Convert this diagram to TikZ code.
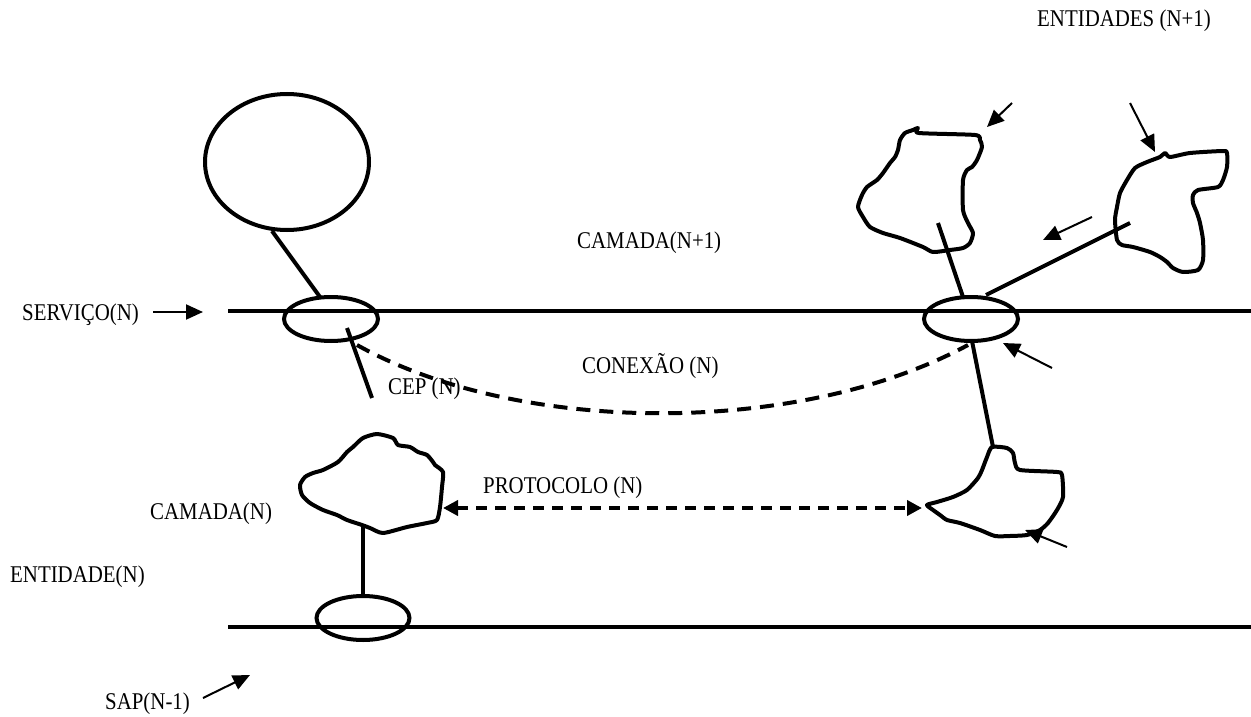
\documentclass[tikz,border=0pt]{standalone}
\usepackage{fontspec}
\setmainfont{Liberation Serif}[FakeStretch=0.87]
\usetikzlibrary{shapes.geometric,arrows.meta}
\tikzset{
  thickline/.style={line width=4pt, line cap=butt},
  blob/.style={line width=4pt, line join=round},
  ell/.style={draw, ellipse, line width=4pt, inner sep=0pt},
  ptr/.style={line width=2pt, -{Triangle[length=17pt,width=15pt]}},
  dashline/.style={line width=4pt, dash pattern=on 14pt off 9pt},
  lbl/.style={font=\fontsize{24}{28}\selectfont, inner sep=0pt, anchor=west}
}
\begin{document}
\begin{tikzpicture}[x=1pt,y=-1pt]
\useasboundingbox (0,0) rectangle (1251,717);
% horizontal lines
\coordinate (h1a) at (228,311); \coordinate (h1b) at (1251,311);
\coordinate (h2a) at (228,627); \coordinate (h2b) at (1251,627);
\draw[thickline] (h1a) -- (h1b);
\draw[thickline] (h2a) -- (h2b);
% ellipses
\node[ell, minimum width=164pt, minimum height=136pt] (big) at (287,162) {};
\node[ell, minimum width=94pt, minimum height=44pt] (eL) at (331,319) {};
\node[ell, minimum width=94pt, minimum height=44pt] (eR) at (971,319) {};
\node[ell, minimum width=93pt, minimum height=44pt] (eB) at (363,618) {};
% blobs
\draw[blob] plot[smooth cycle, tension=0.4] coordinates {(919,133) (975,135) (980,140) (982,147) (977,160) (972,167) (967,170) (963,180) (963,210) (968,223) (973,233) (970,243) (963,248) (950,250) (933,252) (923,247) (900,238) (883,233) (870,227) (863,217) (858,207) (862,195) (867,187) (877,180) (883,173) (890,163) (895,157) (898,150) (900,140) (905,133) (913,130) (918,128)};
\draw[blob] plot[smooth cycle, tension=0.4] coordinates {(1165,153) (1170,157) (1190,153) (1223,151) (1227,153) (1227,167) (1223,180) (1218,187) (1198,190) (1193,195) (1193,203) (1197,213) (1200,223) (1203,240) (1203,260) (1198,270) (1183,272) (1173,268) (1167,262) (1160,257) (1150,252) (1133,247) (1122,245) (1117,240) (1115,220) (1117,207) (1120,193) (1127,180) (1135,168) (1147,162) (1160,157)};
\draw[blob] plot[smooth cycle, tension=0.4] coordinates {(377,434) (393,438) (398,445) (410,447) (418,452) (427,455) (433,462) (435,465) (443,472) (442,487) (440,507) (437,520) (427,523) (407,527) (383,533) (370,528) (362,525) (347,520) (337,515) (323,510) (310,503) (302,495) (300,485) (305,477) (313,473) (323,470) (338,462) (347,452) (353,447) (363,438)};
\draw[blob] plot[smooth cycle, tension=0.4] coordinates {(992,447) (1007,448) (1013,453) (1015,463) (1020,470) (1057,472) (1062,475) (1063,497) (1057,510) (1048,523) (1040,530) (1027,535) (1010,536) (995,536) (980,530) (960,523) (947,520) (940,515) (933,510) (927,505) (937,502) (953,497) (967,490) (978,478) (982,470) (987,457)};
% connector coordinates
\coordinate (bigb) at (272,231); \coordinate (eLt) at (320,297);
\coordinate (cepa) at (347,328); \coordinate (cepb) at (372,398);
\coordinate (eRt1) at (963,297); \coordinate (b1) at (938,223);
\coordinate (eRt2) at (986,295); \coordinate (b2) at (1130,223);
\coordinate (eRb) at (972,341); \coordinate (b4t) at (993,447);
\coordinate (b3b) at (363,524); \coordinate (eBt) at (363,596);
\draw[thickline] (bigb) -- (eLt);
\draw[thickline] (cepa) -- (cepb);
\draw[thickline] (eRt1) -- (b1);
\draw[thickline] (eRt2) -- (b2);
\draw[thickline] (eRb) -- (b4t);
\draw[thickline] (b3b) -- (eBt);
% dashed connection
\coordinate (ca) at (357,345); \coordinate (cb) at (968,345);
\draw[dashline] (ca) .. controls (520,436) and (800,436) .. (cb);
% protocol arrow
\coordinate (pa) at (443,508); \coordinate (pb) at (922,508);
\draw[line width=4pt, dash pattern=on 11pt off 8pt, {Triangle[length=15pt,width=15pt]}-{Triangle[length=15pt,width=15pt]}] (pa) -- (pb);
% pointer arrows
\coordinate (a1s) at (1012,103); \coordinate (a1e) at (987,127);
\coordinate (a2s) at (1130,103); \coordinate (a2e) at (1155,152);
\coordinate (a3s) at (1092,217); \coordinate (a3e) at (1043,240);
\coordinate (a4s) at (1052,368); \coordinate (a4e) at (1003,343);
\coordinate (a5s) at (1067,547); \coordinate (a5e) at (1025,530);
\coordinate (a6s) at (153,312); \coordinate (a6e) at (203,312);
\coordinate (a7s) at (203,698); \coordinate (a7e) at (250,675);
\draw[ptr] (a1s) -- (a1e);
\draw[ptr] (a2s) -- (a2e);
\draw[ptr] (a3s) -- (a3e);
\draw[ptr] (a4s) -- (a4e);
\draw[ptr] (a5s) -- (a5e);
\draw[ptr] (a6s) -- (a6e);
\draw[ptr] (a7s) -- (a7e);
% labels
\node[lbl] (t1) at (1037,21) {ENTIDADES (N+1)};
\node[lbl] (t2) at (577,243) {CAMADA(N+1)};
\node[lbl] (t3) at (22,315) {SERVIÇO(N)};
\node[lbl] (t4) at (582,366) {CONEXÃO (N)};
\node[lbl] (t5) at (388,389) {CEP (N)};
\node[lbl] (t6) at (483,488) {PROTOCOLO (N)};
\node[lbl] (t7) at (150,514) {CAMADA(N)};
\node[lbl] (t8) at (10,577) {ENTIDADE(N)};
\node[lbl] (t9) at (105,704) {SAP(N-1)};
\end{tikzpicture}
\end{document}
